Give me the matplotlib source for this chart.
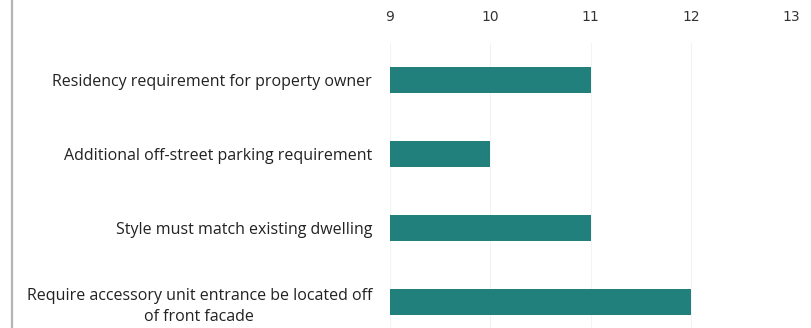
import matplotlib.pyplot as plt
from matplotlib.lines import Line2D

# survey items and how many respondents picked each
items = [
    "Residency requirement for property owner",
    "Additional off-street parking requirement",
    "Style must match existing dwelling",
    "Require accessory unit entrance be located off\nof front facade",
]
counts = [11, 10, 11, 12]
ticks = [9, 10, 11, 12, 13]

bar_color = "#22807c"

fig = plt.figure(figsize=(8.11, 3.28), dpi=100)
ax = fig.add_axes([390 / 811, 0, 401 / 811, 285 / 328])

ypos = list(range(len(items)))
ax.barh(ypos, [c - ticks[0] for c in counts], left=ticks[0], height=0.35,
        color=bar_color, zorder=3)

ax.set_xlim(ticks[0], ticks[-1])
ax.set_ylim(3.35, -0.5)
ax.set_xticks(ticks)
ax.xaxis.tick_top()
ax.tick_params(axis="x", length=0, pad=14, labelsize=10, labelcolor="#333333")
ax.set_yticks(ypos)
ax.set_yticklabels(items, fontsize=11.5, color="#222222", family="Open Sans",
                   multialignment="center", linespacing=1.4)
ax.tick_params(axis="y", length=0, pad=13)
ax.grid(axis="x", color="#f3f3f3", linewidth=0.8, zorder=0)
for s in ax.spines.values():
    s.set_visible(False)

# page edge line on the far left
fig.add_artist(Line2D([12 / 811, 12 / 811], [0, 1], color="#b5b5b5",
                      linewidth=1.6, transform=fig.transFigure))

fig.savefig("out.png", dpi=100)
